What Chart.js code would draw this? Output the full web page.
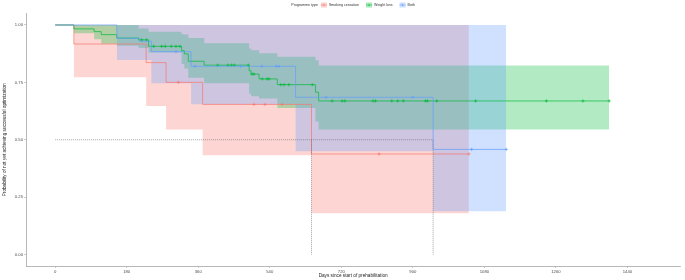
<!DOCTYPE html>
<html lang="en">
<head>
<meta charset="UTF-8">
<title>Time to successful optimization by programme type</title>
<script src="https://cdn.jsdelivr.net/npm/chart.js"></script>
<style>
    html, body { margin: 0; padding: 0; background: #fff; }
</style>
</head>
<body>
<canvas id="km" width="685" height="280"></canvas>

<script>

    // groups
    var grupos = ['Smoking cessation', 'Weight loss', 'Both'];
    var cores = ['#F8766D', '#00BA38', '#619CFF'];
    var preenchimentos = ['rgba(248,118,109,0.3)', 'rgba(0,186,56,0.3)', 'rgba(97,156,255,0.3)'];

    // Smoking cessation: event times, survival, CI
    var smkTempo = [0, 47, 229, 279, 371, 645, 1041];
    var smkSurv  = [1, 0.917, 0.836, 0.75, 0.654, 0.438, 0.438];
    var smkInf   = [1, 0.772, 0.647, 0.545, 0.432, 0.18, 0.18];
    var smkSup   = [1, 1, 1, 1, 1, 1, 1];
    var smkCens  = [310, 500, 528, 571, 815, 1041];

    // Weight loss
    var wlTempo = [0, 47, 98, 116, 155, 210, 235, 318, 325, 335, 375, 488, 493, 513, 559, 655, 663, 1394];
    var wlSurv  = [1, 0.983, 0.971, 0.958, 0.943, 0.935, 0.907, 0.888, 0.874, 0.842, 0.825, 0.801, 0.786, 0.765, 0.74, 0.707, 0.669, 0.669];
    var wlSup   = [1, 1, 1, 1, 1, 0.985, 0.97, 0.96, 0.958, 0.943, 0.92, 0.898, 0.89, 0.877, 0.862, 0.846, 0.823, 0.823];
    var wlInf   = [1, 0.964, 0.938, 0.918, 0.91, 0.9, 0.88, 0.83, 0.81, 0.77, 0.746, 0.7, 0.69, 0.68, 0.638, 0.58, 0.545, 0.545];
    var wlCens  = [218, 230, 248, 268, 277, 292, 304, 314, 409, 435, 444, 451, 486, 495, 500, 521, 533, 538,
                   568, 576, 588, 647, 697, 722, 729, 800, 806, 847, 862, 876, 932, 937, 960, 1058, 1236, 1328, 1394];

    // Both
    var bothTempo = [0, 155, 212, 242, 342, 605, 951, 1135];
    var bothSurv  = [1, 0.942, 0.929, 0.884, 0.82, 0.685, 0.458, 0.458];
    var bothInf   = [1, 0.847, 0.847, 0.746, 0.655, 0.45, 0.188, 0.188];
    var bothSup   = [1, 1, 1, 1, 1, 1, 1, 1];
    var bothCens  = [304, 352, 467, 520, 556, 563, 682, 900, 1048, 1135];

    // median survival lines
    var medianaNivel = 0.5;
    var medianaTempos = [645, 951];

    var xTicks = [0, 180, 360, 540, 720, 900, 1080, 1260, 1440];
    var yTicks = [0, 0.25, 0.5, 0.75, 1];

    var tituloLegenda = 'Programme type';
    var fonte = '"Liberation Sans", Arial, sans-serif';

    function pontos(tempo, valores) {
        var lista = [];
        for (var i = 0; i < tempo.length; i++) {
            lista.push({ x: tempo[i], y: valores[i] });
        }
        return lista;
    }

    function survAt(tempo, surv, t) {
        var s = surv[0];
        for (var i = 0; i < tempo.length; i++) {
            if (tempo[i] <= t) s = surv[i];
        }
        return s;
    }

    function censuras(tempo, surv, cens) {
        var lista = [];
        for (var i = 0; i < cens.length; i++) {
            lista.push({ x: cens[i], y: survAt(tempo, surv, cens[i]) });
        }
        return lista;
    }

    var curvas = [
        { tempo: smkTempo, surv: smkSurv, inf: smkInf, sup: smkSup, cens: smkCens },
        { tempo: wlTempo, surv: wlSurv, inf: wlInf, sup: wlSup, cens: wlCens },
        { tempo: bothTempo, surv: bothSurv, inf: bothInf, sup: bothSup, cens: bothCens }
    ];

    var datasets = [];

    // confidence bands (first group at the bottom)
    for (var g = 0; g < curvas.length; g++) {
        var c = curvas[g];
        datasets.push({
            data: pontos(c.tempo.slice(1), c.inf.slice(1)),
            stepped: true, borderWidth: 0, pointRadius: 0, fill: false, order: 20 - g * 2
        });
        datasets.push({
            data: pontos(c.tempo.slice(1), c.sup.slice(1)),
            stepped: true, borderWidth: 0, pointRadius: 0,
            fill: '-1', backgroundColor: preenchimentos[g], order: 20 - g * 2
        });
    }

    // survival curves and censor marks (last group on top)
    for (var g = 0; g < curvas.length; g++) {
        var c = curvas[g];
        datasets.push({
            data: pontos(c.tempo, c.surv),
            stepped: true, borderColor: cores[g], borderWidth: 0.7,
            pointRadius: 0, fill: false, order: 10 - g * 2
        });
        datasets.push({
            data: censuras(c.tempo, c.surv, c.cens),
            showLine: false, pointStyle: 'cross', pointRadius: 1.6,
            borderColor: cores[g], borderWidth: 0.7, order: 9 - g * 2
        });
    }

    // median lines
    var ultimo = medianaTempos[medianaTempos.length - 1];
    datasets.push({
        data: [{ x: 0, y: medianaNivel }, { x: ultimo, y: medianaNivel }],
        borderColor: '#666', borderWidth: 0.6, borderDash: [1, 1], pointRadius: 0, fill: false, order: 1
    });
    for (var m = 0; m < medianaTempos.length; m++) {
        datasets.push({
            data: [{ x: medianaTempos[m], y: medianaNivel }, { x: medianaTempos[m], y: 0 }],
            borderColor: '#666', borderWidth: 0.6, borderDash: [1, 1], pointRadius: 0, fill: false, order: 1
        });
    }

    var legendaTopo = {
        id: 'legendaTopo',
        afterDraw: function (chart) {
            var ctx = chart.ctx;
            var area = chart.chartArea;
            ctx.save();
            ctx.font = '3.6px ' + fonte;
            ctx.textBaseline = 'middle';
            var y = 5;
            var tituloW = ctx.measureText(tituloLegenda).width;
            var total = tituloW + 3;
            for (var i = 0; i < grupos.length; i++) {
                total += 6 + 2 + ctx.measureText(grupos[i]).width + 7;
            }
            total -= 7;
            var x = (area.left + area.right) / 2 - total / 2;
            ctx.fillStyle = '#333';
            ctx.fillText(tituloLegenda, x, y);
            x += tituloW + 3;
            for (var i = 0; i < grupos.length; i++) {
                ctx.fillStyle = preenchimentos[i];
                ctx.fillRect(x, y - 2.6, 6, 5.2);
                ctx.strokeStyle = cores[i];
                ctx.lineWidth = 0.6;
                ctx.beginPath();
                ctx.moveTo(x, y); ctx.lineTo(x + 6, y);
                ctx.moveTo(x + 3, y - 1.3); ctx.lineTo(x + 3, y + 1.3);
                ctx.stroke();
                x += 8;
                ctx.fillStyle = '#333';
                ctx.fillText(grupos[i], x, y);
                x += ctx.measureText(grupos[i]).width + 7;
            }
            ctx.restore();
        }
    };

    var ctx = document.getElementById('km').getContext('2d');
    var grafico = new Chart(ctx, {
        type: 'line',
        data: { datasets: datasets },
        plugins: [legendaTopo],
        options: {
            responsive: false,
            animation: false,
            layout: { padding: { top: 13.5, right: 2, left: 0, bottom: 0 } },
            elements: { line: { tension: 0 } },
            plugins: {
                legend: { display: false },
                tooltip: { enabled: false }
            },
            scales: {
                x: {
                    type: 'linear',
                    min: -73.4,
                    max: 1573,
                    afterFit: function (scale) { scale.height = 14; },
                    afterBuildTicks: function (scale) {
                        scale.ticks = xTicks.map(function (v) { return { value: v }; });
                    },
                    border: { display: true, color: '#a6a6a6', width: 0.8 },
                    grid: { display: true, drawOnChartArea: false, drawTicks: true, tickLength: 2, color: '#a6a6a6', lineWidth: 0.6 },
                    ticks: {
                        padding: 1,
                        maxRotation: 0,
                        autoSkip: false,
                        color: '#4d4d4d',
                        font: { size: 4.2, family: fonte },
                        callback: function (v) { return String(v); }
                    },
                    title: {
                        display: true,
                        text: 'Days since start of prehabilitation',
                        color: '#222',
                        padding: { top: 0, bottom: 1 },
                        font: { size: 4.7, family: fonte }
                    }
                },
                y: {
                    type: 'linear',
                    min: -0.05,
                    max: 1.05,
                    afterFit: function (scale) { scale.width = 26; },
                    afterBuildTicks: function (scale) {
                        scale.ticks = yTicks.map(function (v) { return { value: v }; });
                    },
                    border: { display: true, color: '#a6a6a6', width: 0.8 },
                    grid: { display: true, drawOnChartArea: false, drawTicks: true, tickLength: 2, color: '#a6a6a6', lineWidth: 0.6 },
                    ticks: {
                        padding: 1,
                        color: '#4d4d4d',
                        font: { size: 4.2, family: fonte },
                        callback: function (v) { return Number(v).toFixed(2); }
                    },
                    title: {
                        display: true,
                        text: 'Probability of not yet achieving successful optimization',
                        color: '#222',
                        padding: { top: 2, bottom: 0 },
                        font: { size: 4.7, family: fonte }
                    }
                }
            }
        }
    });

</script>
</body>
</html>
